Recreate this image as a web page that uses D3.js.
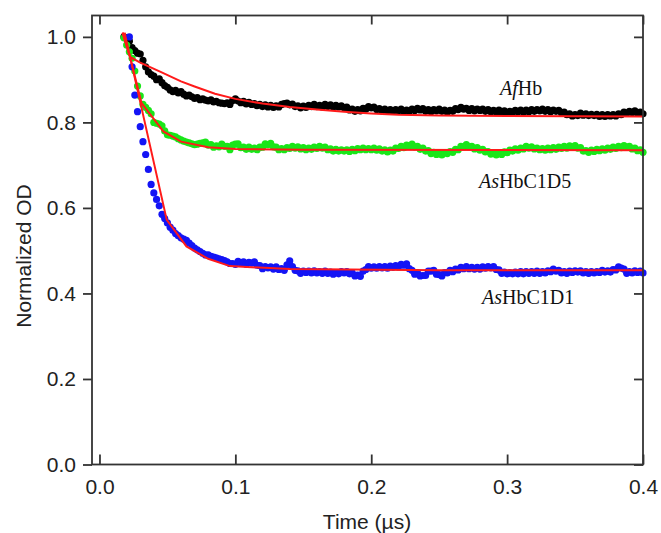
<!DOCTYPE html>
<html>
<head>
<meta charset="utf-8">
<script src="https://cdn.jsdelivr.net/npm/d3@7.9.0/dist/d3.min.js"></script>
<style>
  body { margin: 0; background: #fff; }
  svg { display: block; }
  .axis text { font-family: "Liberation Sans", Arial, sans-serif; font-size: 21px; fill: #222; }
  .axis path, .axis line { stroke: #333; stroke-width: 1.8; }
  .label { font-family: "Liberation Serif", "Times New Roman", serif; font-size: 20px; fill: #111; }
</style>
</head>
<body>
<svg id="chart" width="661" height="533"></svg>
<script>
// sampling of the traces (µs)
const timeStart = 0.018;
const timeStep = 0.002;

// AfHb (black dots)
const afHb = [
  1.0, 0.995, 0.99, 0.975, 0.968, 0.962, 0.96, 0.945, 0.93, 0.918,
  0.912, 0.908, 0.9, 0.902, 0.893, 0.886, 0.882, 0.876, 0.872, 0.875,
  0.869, 0.872, 0.866, 0.862, 0.864, 0.86, 0.856, 0.858, 0.853, 0.855,
  0.852, 0.85, 0.853, 0.848, 0.849, 0.846, 0.845, 0.844, 0.846, 0.842,
  0.851, 0.855, 0.85, 0.846, 0.849, 0.843, 0.847, 0.842, 0.844, 0.839,
  0.842, 0.837, 0.841, 0.836, 0.84, 0.835, 0.839, 0.836, 0.842, 0.844,
  0.845, 0.841, 0.843, 0.837, 0.839, 0.834, 0.838, 0.835, 0.84, 0.837,
  0.842, 0.837, 0.84, 0.836, 0.842, 0.837, 0.841, 0.836, 0.84, 0.836,
  0.839, 0.834, 0.836, 0.829, 0.831, 0.826, 0.83, 0.827, 0.833, 0.831,
  0.837, 0.834, 0.836, 0.83, 0.832, 0.827, 0.831, 0.827, 0.83, 0.826,
  0.83, 0.827, 0.831, 0.826, 0.829, 0.826, 0.831, 0.828, 0.833, 0.829,
  0.832, 0.826, 0.83, 0.825, 0.83, 0.827, 0.831, 0.826, 0.829, 0.824,
  0.828, 0.826, 0.832, 0.83, 0.835, 0.831, 0.833, 0.828, 0.832, 0.827,
  0.831, 0.828, 0.831, 0.826, 0.83, 0.825, 0.828, 0.824, 0.829, 0.824,
  0.827, 0.822, 0.826, 0.823, 0.828, 0.825, 0.829, 0.824, 0.829, 0.825,
  0.83, 0.826, 0.83, 0.827, 0.831, 0.826, 0.83, 0.825, 0.829, 0.826,
  0.828, 0.822, 0.824, 0.818, 0.82, 0.815, 0.818, 0.816, 0.822, 0.817,
  0.82, 0.816, 0.819, 0.816, 0.819, 0.814, 0.818, 0.814, 0.818, 0.815,
  0.818, 0.815, 0.82, 0.818, 0.824, 0.821, 0.826, 0.823, 0.827, 0.821,
  0.824, 0.82
];

// AsHbC1D5 (green dots)
const asHbC1D5 = [
  0.998, 0.981, 0.965, 0.95, 0.92, 0.885, 0.862, 0.842, 0.835, 0.828,
  0.82, 0.8, 0.798, 0.796, 0.792, 0.78, 0.771, 0.77, 0.768, 0.766,
  0.762, 0.759, 0.756, 0.754, 0.752, 0.75, 0.748, 0.749, 0.751, 0.752,
  0.754, 0.747, 0.748, 0.742, 0.745, 0.743, 0.749, 0.744, 0.744, 0.736,
  0.747, 0.749, 0.75, 0.741, 0.742, 0.737, 0.742, 0.737, 0.74, 0.736,
  0.742, 0.742, 0.75, 0.748, 0.751, 0.743, 0.742, 0.736, 0.739, 0.736,
  0.741, 0.739, 0.744, 0.74, 0.743, 0.738, 0.741, 0.736, 0.74, 0.737,
  0.742, 0.739, 0.744, 0.74, 0.742, 0.736, 0.738, 0.733, 0.737, 0.733,
  0.736, 0.733, 0.736, 0.732, 0.737, 0.734, 0.739, 0.736, 0.74, 0.736,
  0.739, 0.736, 0.74, 0.735, 0.738, 0.733, 0.736, 0.731, 0.735, 0.733,
  0.74, 0.739, 0.744, 0.741, 0.747, 0.745, 0.749, 0.743, 0.744, 0.737,
  0.74, 0.733, 0.734, 0.727, 0.73, 0.725, 0.728, 0.724, 0.729, 0.727,
  0.732, 0.73, 0.737, 0.736, 0.744, 0.743, 0.748, 0.743, 0.744, 0.738,
  0.741, 0.735, 0.737, 0.731, 0.732, 0.726, 0.729, 0.724, 0.728, 0.725,
  0.731, 0.729, 0.735, 0.733, 0.738, 0.735, 0.74, 0.738, 0.744, 0.74,
  0.743, 0.738, 0.74, 0.736, 0.739, 0.735, 0.74, 0.736, 0.741, 0.737,
  0.742, 0.739, 0.744, 0.74, 0.745, 0.742, 0.746, 0.74, 0.741, 0.733,
  0.734, 0.73, 0.735, 0.732, 0.737, 0.734, 0.738, 0.735, 0.74, 0.737,
  0.742, 0.739, 0.744, 0.741, 0.746, 0.742, 0.744, 0.738, 0.74, 0.734,
  0.736, 0.73
];

// AsHbC1D1 (blue dots)
const asHbC1D1 = [
  null, null, 1.0, 0.93, 0.864, 0.825, 0.79, 0.755, 0.725, 0.69,
  0.655, 0.635, 0.62, 0.605, 0.585, 0.575, 0.565, 0.555, 0.548, 0.54,
  0.535, 0.53, 0.527, 0.524, 0.518, 0.512, 0.506, 0.502, 0.498, 0.494,
  0.49, 0.49, 0.487, 0.485, 0.483, 0.481, 0.479, 0.477, 0.474, 0.47,
  0.47, 0.468, 0.475, 0.472, 0.474, 0.468, 0.473, 0.471, 0.474, 0.466,
  0.465, 0.458, 0.463, 0.46, 0.462, 0.457, 0.462, 0.456, 0.458, 0.454,
  0.467, 0.476, 0.463, 0.454, 0.453, 0.447, 0.452, 0.449, 0.452, 0.448,
  0.453, 0.448, 0.451, 0.447, 0.452, 0.447, 0.45, 0.445, 0.449, 0.446,
  0.451, 0.448, 0.451, 0.446, 0.448, 0.441, 0.443, 0.44, 0.452, 0.456,
  0.463, 0.459, 0.462, 0.459, 0.463, 0.46, 0.463, 0.459, 0.464, 0.461,
  0.465, 0.462, 0.468, 0.466, 0.469, 0.458, 0.454, 0.445, 0.448, 0.441,
  0.442, 0.442, 0.452, 0.452, 0.454, 0.445, 0.444, 0.441, 0.449, 0.448,
  0.454, 0.451, 0.457, 0.455, 0.461, 0.458, 0.463, 0.458, 0.461, 0.457,
  0.461, 0.457, 0.462, 0.459, 0.463, 0.46, 0.463, 0.456, 0.455, 0.447,
  0.45, 0.446, 0.449, 0.446, 0.45, 0.446, 0.451, 0.446, 0.451, 0.447,
  0.451, 0.447, 0.452, 0.447, 0.451, 0.448, 0.453, 0.451, 0.457, 0.452,
  0.454, 0.448, 0.451, 0.447, 0.452, 0.449, 0.453, 0.45, 0.453, 0.448,
  0.451, 0.447, 0.451, 0.448, 0.451, 0.449, 0.454, 0.45, 0.453, 0.45,
  0.456, 0.455, 0.462, 0.459, 0.457, 0.447, 0.451, 0.448, 0.453, 0.449,
  0.452, 0.448
];

// red fit curves, as [time, value] pairs
const fitAfHb = [
  [0.017, 1.01], [0.0225, 0.953], [0.03, 0.94], [0.045, 0.918], [0.06, 0.896],
  [0.07, 0.884], [0.085, 0.867], [0.1, 0.855], [0.12, 0.844], [0.14, 0.836],
  [0.16, 0.83], [0.18, 0.825], [0.2, 0.821], [0.22, 0.818], [0.25, 0.816],
  [0.3, 0.815], [0.4, 0.814]
];
const fitAsHbC1D5 = [
  [0.017, 1.01], [0.0225, 0.953], [0.031, 0.845], [0.047, 0.779], [0.06, 0.755],
  [0.08, 0.742], [0.1, 0.738], [0.15, 0.736], [0.4, 0.735]
];
const fitAsHbC1D1 = [
  [0.0185, 1.01], [0.0495, 0.572], [0.064, 0.51], [0.08, 0.481], [0.096, 0.464],
  [0.14, 0.457], [0.25, 0.454], [0.4, 0.454]
];

const xTicks = [0, 0.1, 0.2, 0.3, 0.4];
const yTicks = [0, 0.2, 0.4, 0.6, 0.8, 1.0];

const svg = d3.select('#chart');
const x = d3.scaleLinear().domain([-0.0055, 0.4]).range([92, 643]);
const y = d3.scaleLinear().domain([0, 1.05]).range([464.5, 15.5]);

function toPoints(values) {
  return values
    .map((v, i) => ({ t: timeStart + i * timeStep, v: v }))
    .filter(d => d.v !== null);
}

const series = [
  { values: afHb, color: '#000000' },
  { values: asHbC1D5, color: '#19e619' },
  { values: asHbC1D1, color: '#1414f5' }
];

series.forEach(s => {
  svg.append('g')
    .selectAll('circle')
    .data(toPoints(s.values))
    .join('circle')
    .attr('cx', d => x(d.t))
    .attr('cy', d => y(d.v))
    .attr('r', 3.6)
    .attr('fill', s.color);
});

const line = d3.line().x(d => x(d[0])).y(d => y(d[1]));
[fitAfHb, fitAsHbC1D5, fitAsHbC1D1].forEach(f => {
  svg.append('path')
    .attr('d', line(f))
    .attr('fill', 'none')
    .attr('stroke', '#ff1a1a')
    .attr('stroke-width', 2);
});

// axes
const fmt = d3.format('.1f');
svg.append('g').attr('class', 'axis')
  .attr('transform', 'translate(0,464.5)')
  .call(d3.axisBottom(x).tickValues(xTicks).tickFormat(fmt).tickSize(-10).tickSizeOuter(0).tickPadding(15));
svg.append('g').attr('class', 'axis')
  .attr('transform', 'translate(92,0)')
  .call(d3.axisLeft(y).tickValues(yTicks).tickFormat(fmt).tickSize(9).tickSizeOuter(0).tickPadding(7));
svg.append('g').attr('class', 'axis')
  .attr('transform', 'translate(0,15.5)')
  .call(d3.axisTop(x).tickValues(xTicks).tickFormat('').tickSize(-9).tickSizeOuter(0));
svg.append('g').attr('class', 'axis')
  .attr('transform', 'translate(643,0)')
  .call(d3.axisRight(y).tickValues(yTicks).tickFormat('').tickSize(-9).tickSizeOuter(0));

svg.selectAll('.axis .domain').remove();
svg.append('rect')
  .attr('x', 92).attr('y', 15.5)
  .attr('width', 551).attr('height', 449)
  .attr('fill', 'none')
  .attr('stroke', '#333')
  .attr('stroke-width', 1.8);

// axis titles
svg.append('text')
  .attr('x', 367).attr('y', 529)
  .attr('text-anchor', 'middle')
  .style('font-family', '"Liberation Sans", Arial, sans-serif')
  .style('font-size', '21px')
  .attr('fill', '#222')
  .text('Time (µs)');
svg.append('text')
  .attr('transform', 'translate(31,256) rotate(-90)')
  .attr('text-anchor', 'middle')
  .style('font-family', '"Liberation Sans", Arial, sans-serif')
  .style('font-size', '21px')
  .attr('fill', '#222')
  .text('Normalized OD');

// series labels
const labels = [
  { it: 'Af', rest: 'Hb', x: 500, y: 95 },
  { it: 'As', rest: 'HbC1D5', x: 479, y: 188 },
  { it: 'As', rest: 'HbC1D1', x: 482, y: 304 }
];
labels.forEach(l => {
  const t = svg.append('text').attr('class', 'label').attr('x', l.x).attr('y', l.y);
  t.append('tspan').style('font-style', 'italic').text(l.it);
  t.append('tspan').text(l.rest);
});
</script>
</body>
</html>
